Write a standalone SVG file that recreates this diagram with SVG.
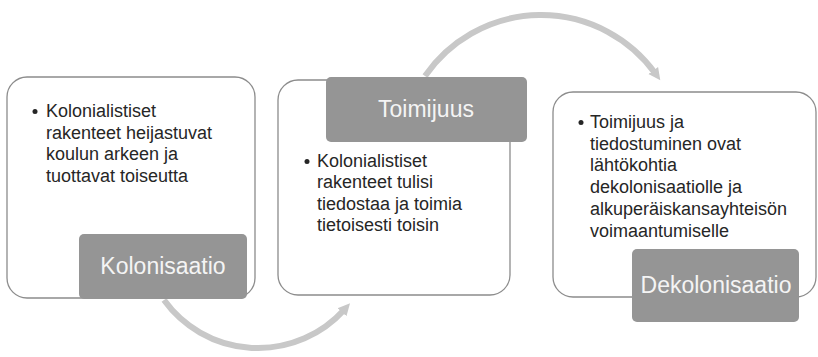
<svg xmlns="http://www.w3.org/2000/svg" width="818" height="357" viewBox="0 0 818 357">
  <defs>
    <style>
      .card { fill: #ffffff; stroke: #8c8c8c; stroke-width: 1.3; }
      .label { fill: #959595; }
      .ltext { font-family: "Liberation Sans", Arial, sans-serif; font-size: 23px; fill: #f4f4f4; text-anchor: middle; }
      .body { font-family: "Liberation Sans", Arial, sans-serif; font-size: 18px; fill: #262626; }
      .conn { fill: none; stroke: #c8c8c8; stroke-width: 6; }
    </style>
    <marker id="arrow" markerUnits="userSpaceOnUse" markerWidth="14" markerHeight="14" refX="3" refY="6" orient="auto" viewBox="0 0 14 12">
      <path d="M0,0 L12,6 L0,12 z" fill="#c8c8c8"/>
    </marker>
  </defs>

  <g id="connectors">
    <path class="conn" d="M 425 76 A 141 141 0 0 1 655 73" marker-end="url(#arrow)"/>
    <path class="conn" d="M 164 300 A 116 116 0 0 0 344 310" marker-end="url(#arrow)"/>
  </g>

  <g id="kolonisaatio">
    <rect class="card" x="7" y="77" width="248" height="221" rx="20" ry="20"/>
    <circle cx="35" cy="111.5" r="2.5" fill="#262626"/>
    <text class="body" x="46" y="117">Kolonialistiset</text>
    <text class="body" x="46" y="138.5">rakenteet heijastuvat</text>
    <text class="body" x="46" y="160">koulun arkeen ja</text>
    <text class="body" x="46" y="181.5">tuottavat toiseutta</text>
    <rect class="label" x="79" y="234" width="168" height="65" rx="5" ry="5"/>
    <text class="ltext" x="163" y="274">Kolonisaatio</text>
  </g>

  <g id="toimijuus">
    <rect class="card" x="278" y="80" width="232" height="215" rx="20" ry="20"/>
    <rect class="label" x="326" y="77" width="201" height="65" rx="5" ry="5"/>
    <text class="ltext" x="426" y="117">Toimijuus</text>
    <circle cx="307" cy="161.5" r="2.5" fill="#262626"/>
    <text class="body" x="317" y="167">Kolonialistiset</text>
    <text class="body" x="317" y="188.3">rakenteet tulisi</text>
    <text class="body" x="317" y="209.6">tiedostaa ja toimia</text>
    <text class="body" x="317" y="231">tietoisesti toisin</text>
  </g>

  <g id="dekolonisaatio">
    <rect class="card" x="553" y="92" width="263" height="205" rx="20" ry="20"/>
    <circle cx="581" cy="122.5" r="2.5" fill="#262626"/>
    <text class="body" x="590" y="128">Toimijuus ja</text>
    <text class="body" x="590" y="149.7">tiedostuminen ovat</text>
    <text class="body" x="590" y="171.4">lähtökohtia</text>
    <text class="body" x="590" y="193.1">dekolonisaatiolle ja</text>
    <text class="body" x="590" y="214.8">alkuperäiskansayhteisön</text>
    <text class="body" x="590" y="236.5">voimaantumiselle</text>
    <rect class="label" x="632" y="249" width="167" height="73" rx="5" ry="5"/>
    <text class="ltext" x="716" y="293">Dekolonisaatio</text>
  </g>
</svg>
